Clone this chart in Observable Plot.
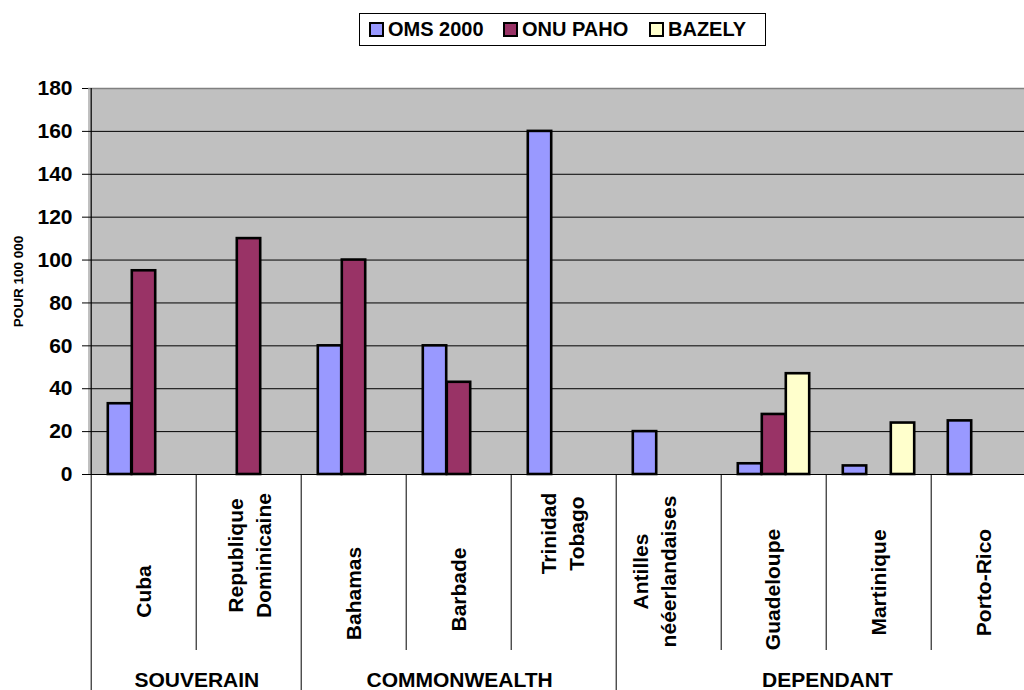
<!DOCTYPE html>
<html>
<head>
<meta charset="utf-8">
<script src="https://cdn.jsdelivr.net/npm/d3@7"></script>
<script src="https://cdn.jsdelivr.net/npm/@observablehq/plot@0.6"></script>
<style>
  html, body { margin: 0; padding: 0; background: #fff; }
  #wrap { position: relative; width: 1024px; height: 690px; overflow: hidden;
          font-family: Arial, "Liberation Sans", sans-serif; }
  #legend { position: absolute; left: 359px; top: 13px; width: 407px; height: 33px;
            border: 1px solid #000; background: #fff; box-sizing: border-box; }
  .item { position: absolute; top: 0; height: 31px; display: flex; align-items: center;
          font-weight: bold; font-size: 20px; color: #000; white-space: nowrap; }
  .sw { width: 15px; height: 15px; box-sizing: border-box; border: 2px solid #000; margin-right: 4px; }
</style>
</head>
<body>
<div id="wrap">
  <div id="chart"></div>
  <div id="legend"></div>
</div>
<script>
// Categories (countries), their political status and the three data sources
const countries = ["Cuba", "Republique Dominicaine", "Bahamas", "Barbade", "Trinidad Tobago",
                   "Antilles nééerlandaises", "Guadeloupe", "Martinique", "Porto-Rico"];
const countryLabels = ["Cuba", "Republique\nDominicaine", "Bahamas", "Barbade", "Trinidad\nTobago",
                       "Antilles\nnééerlandaises", "Guadeloupe", "Martinique", "Porto-Rico"];
const statusGroups = ["SOUVERAIN", "COMMONWEALTH", "DEPENDANT"];
const groupSizes = [2, 3, 4];
const seriesNames = ["OMS 2000", "ONU PAHO", "BAZELY"];

// Rates per 100 000 (null = no value)
const oms2000 = [33, null, 60, 60, 160, 20, 5, 4, 25];
const onuPaho = [95, 110, 100, 43, null, null, 28, null, null];
const bazely  = [null, null, null, null, null, null, 47, 24, null];

const yTicks = [0, 20, 40, 60, 80, 100, 120, 140, 160, 180];
const seriesColors = ["#9999FF", "#993366", "#FFFFCC"];

// ---- layout ----
const frameLeft = 88, catW = 105.6, slotW = 24;
const frameRight = frameLeft + catW * countries.length;
const zeroPx = 474, topPx = 88;
const unit = (zeroPx - topPx) / 180;
const pxToY = (p) => (zeroPx - p) / unit;
// vertical centre (px) and horizontal nudge of each rotated category label
const labelLayout = {
  "Cuba": [591, -2], "Republique Dominicaine": [555, -1], "Bahamas": [593, -2], "Barbade": [589, -2],
  "Trinidad Tobago": [533, -3], "Antilles nééerlandaises": [571, -16], "Guadeloupe": [589, -3],
  "Martinique": [582, -2], "Porto-Rico": [582, -2]
};

const seriesValues = [oms2000, onuPaho, bazely];
const rows = [];
seriesValues.forEach((vals, k) => vals.forEach((v, i) => {
  if (v != null) rows.push({country: countries[i], series: seriesNames[k], value: v});
}));

const font = "Arial, 'Liberation Sans', sans-serif";
const marks = [];

// plot area background, grid and border
marks.push(Plot.rect([0], {y1: 0, y2: 180, fill: "#c0c0c0"}));
marks.push(Plot.ruleY(yTicks.filter(t => t > 0 && t < 180), {stroke: "#000", strokeWidth: 1}));
marks.push(Plot.ruleY([180], {stroke: "#808080", strokeWidth: 1.5}));

// grouped bars, one mark per source
seriesNames.forEach((s, k) => {
  marks.push(Plot.barY(rows.filter(r => r.series === s), {
    x: "country", y: "value", fill: seriesColors[k], stroke: "#000", strokeWidth: 2.6,
    insetLeft: (catW - slotW) / 2, insetRight: (catW - slotW) / 2, dx: (k - 1) * slotW
  }));
});

// baseline and y axis
marks.push(Plot.ruleY([0], {stroke: "#000", strokeWidth: 1.2}));
marks.push(Plot.axisY({ticks: yTicks, tickSize: 6, tickPadding: 10, fontSize: 21,
  fontWeight: "bold", label: null, stroke: "#000"}));
marks.push(Plot.ruleX([countries[0]], {x: d => d, dx: -catW / 2, y1: 0, y2: 180, stroke: "#000", strokeWidth: 1.2}));

// category table below the axis
const groupStarts = [];
groupSizes.reduce((acc, n) => { groupStarts.push(countries[acc]); return acc + n; }, 0);
marks.push(Plot.ruleX(countries.filter(c => !groupStarts.includes(c)),
  {x: d => d, dx: -catW / 2, y1: 0, y2: pxToY(650), stroke: "#000", strokeWidth: 1}));
marks.push(Plot.ruleX(groupStarts,
  {x: d => d, dx: -catW / 2, y1: 0, y2: pxToY(700), stroke: "#000", strokeWidth: 1}));

countries.forEach((c, i) => {
  const [mid, nudge] = labelLayout[c];
  marks.push(Plot.text([countryLabels[i]], {
    x: () => c, y: pxToY(mid), text: d => d, rotate: -90, dx: nudge,
    fontSize: 21, fontWeight: "bold", lineHeight: 1.35, textAnchor: "middle", lineAnchor: "middle", fill: "#000"
  }));
});

groupSizes.reduce((acc, n, g) => {
  marks.push(Plot.text([statusGroups[g]], {
    x: () => countries[acc], dx: (n - 1) * catW / 2, y: pxToY(680), text: d => d,
    fontSize: 21, fontWeight: "bold", lineAnchor: "middle", fill: "#000"
  }));
  return acc + n;
}, 0);

// y axis title
marks.push(Plot.text(["POUR 100 000"], {
  frameAnchor: "left", dx: -70, y: pxToY(281), text: d => d, rotate: -90,
  textAnchor: "middle", lineAnchor: "middle",
  fontSize: 13.5, fontWeight: "bold", fill: "#000"
}));

const chart = Plot.plot({
  width: 1024, height: 690,
  marginLeft: frameLeft, marginRight: 0, marginTop: 0, marginBottom: 0,
  x: {domain: countries, range: [frameLeft, frameRight], padding: 0, axis: null},
  y: {domain: [0, 180], range: [zeroPx, topPx], axis: null},
  style: {fontFamily: font, background: "#fff", overflow: "hidden", maxWidth: "none"},
  marks
});
document.getElementById("chart").appendChild(chart);

// legend
const legend = document.getElementById("legend");
const legendX = [[9, 28], [143, 163], [289, 308]];
seriesNames.forEach((s, k) => {
  const item = document.createElement("div");
  item.className = "item";
  item.style.left = legendX[k][0] + "px";
  const sw = document.createElement("div");
  sw.className = "sw";
  sw.style.background = seriesColors[k];
  item.appendChild(sw);
  const t = document.createElement("span");
  t.textContent = s;
  item.appendChild(t);
  legend.appendChild(item);
});
</script>
</body>
</html>
